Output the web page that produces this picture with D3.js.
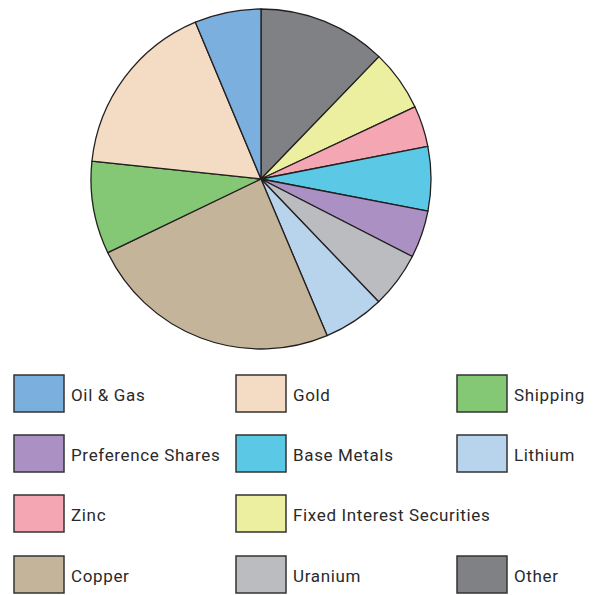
<!DOCTYPE html>
<html><head><meta charset="utf-8">
<script src="https://cdn.jsdelivr.net/npm/d3@7"></script>
<style>html,body{margin:0;padding:0;background:#fff;}</style>
</head><body>
<svg id="chart" width="598" height="595"></svg>
<script>
// Slice order clockwise from 12 o'clock
const categories = ["Other","Fixed Interest Securities","Zinc","Base Metals","Preference Shares","Uranium","Lithium","Copper","Shipping","Gold","Oil & Gas"];
const values = [12.2, 5.8, 3.9, 6.1, 4.5, 5.3, 5.8, 24.2, 8.8, 17.0, 6.3];
const colors = ["#808184","#ECEEA0","#F4A6B2","#5BC9E5","#AB90C4","#BBBCBF","#B8D3EC","#C4B49A","#84C774","#F4DBC4","#7BAFDE"];
// Legend order (row by row)
const legendOrder = ["Oil & Gas","Gold","Shipping","Preference Shares","Base Metals","Lithium","Zinc","Fixed Interest Securities",null,"Copper","Uranium","Other"];

const svg = d3.select("#chart");
const cx = 261, cy = 179, r = 170;
const color = d3.scaleOrdinal().domain(categories).range(colors);
const pie = d3.pie().sort(null).value(d => d.v);
const arc = d3.arc().innerRadius(0).outerRadius(r);
const data = categories.map((c,i)=>({c, v: values[i]}));

svg.append("g").attr("transform",`translate(${cx},${cy})`)
  .selectAll("path").data(pie(data)).join("path")
  .attr("d", arc)
  .attr("fill", d => color(d.data.c))
  .attr("stroke", "#231f20").attr("stroke-width", 1.3).attr("stroke-linejoin","round");

const colX = [14, 236, 457], rowY = [375, 435, 495, 556];
const lg = svg.append("g");
legendOrder.forEach((name, i) => {
  if (!name) return;
  const x = colX[i % 3], y = rowY[Math.floor(i / 3)];
  lg.append("rect").attr("x", x).attr("y", y).attr("width", 50).attr("height", 37)
    .attr("fill", color(name)).attr("stroke", "#333").attr("stroke-width", 1.5);
  lg.append("text").attr("x", x + 57).attr("y", y + 26)
    .attr("font-family", "Roboto, 'Noto Sans', sans-serif").attr("font-size", 17)
    .attr("letter-spacing", 0.65)
    .attr("fill", "#2a2a2a").text(name);
});
</script>
</body></html>
